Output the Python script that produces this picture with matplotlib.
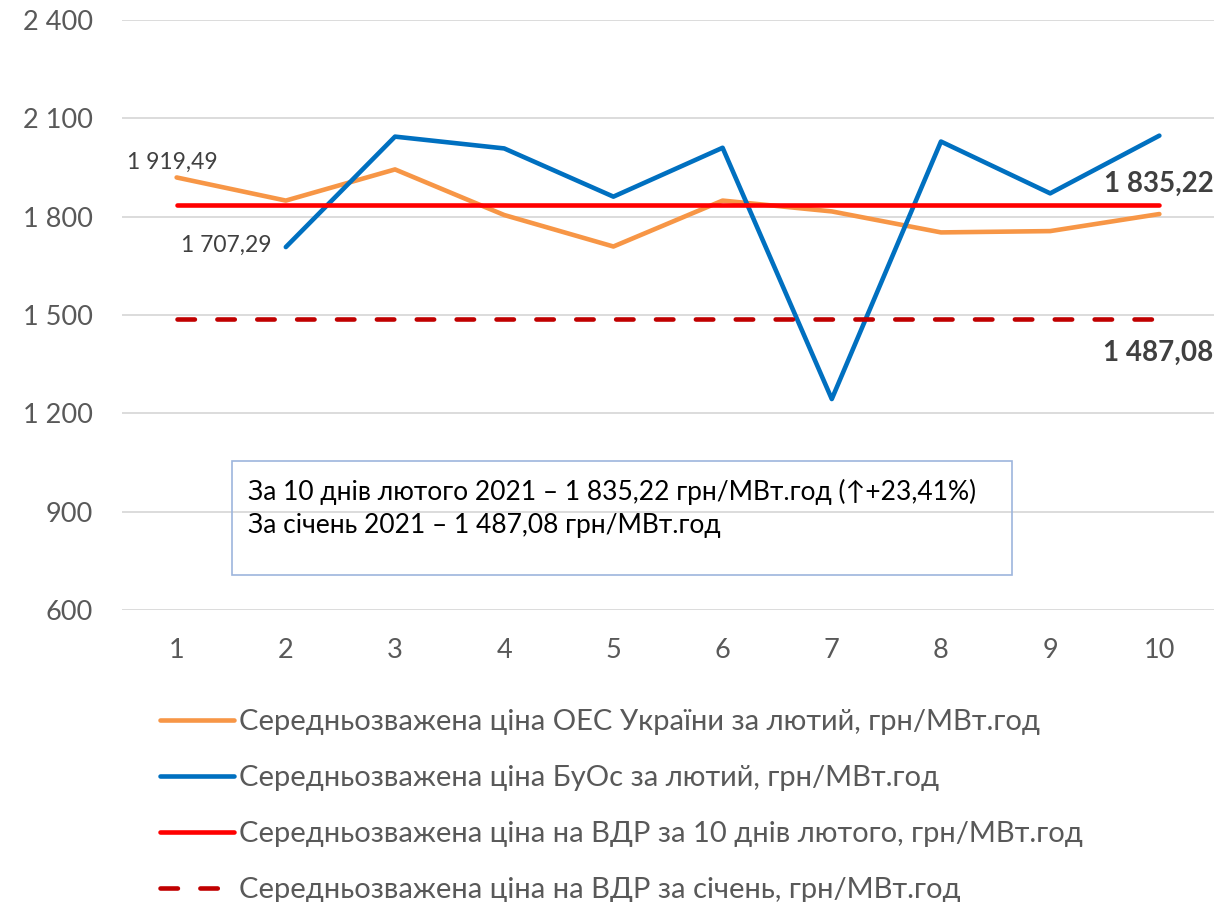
import matplotlib.pyplot as plt
import numpy as np

plt.rcParams['font.family'] = ['Lato', 'DejaVu Sans']

days = [1, 2, 3, 4, 5, 6, 7, 8, 9, 10]
oes_price = [1919.49, 1849, 1944, 1805, 1709, 1849, 1816, 1752, 1756, 1808]
buos_days = [2, 3, 4, 5, 6, 7, 8, 9, 10]
buos_price = [1707.29, 2044, 2008, 1861, 2010, 1244, 2029, 1871, 2047]
vdr_feb = 1835.22
vdr_jan = 1487.08
yticks = [600, 900, 1200, 1500, 1800, 2100, 2400]
ytick_labels = ['600', '900', '1 200', '1 500', '1 800', '2 100', '2 400']

labels = [
    'Середньозважена ціна ОЕС України за лютий, грн/МВт.год',
    'Середньозважена ціна БуОс за лютий, грн/МВт.год',
    'Середньозважена ціна на ВДР за 10 днів лютого, грн/МВт.год',
    'Середньозважена ціна на ВДР за січень, грн/МВт.год',
]

gray = '#595959'

fig = plt.figure(figsize=(12.24, 9.02), dpi=100)
ax = fig.add_axes([0.0997, 0.3234, 0.8921, 0.6546])

l1, = ax.plot(days, oes_price, color='#F79646', lw=3.3, solid_capstyle='round')
l2, = ax.plot(buos_days, buos_price, color='#0070C0', lw=3.3, solid_capstyle='round')
l3, = ax.plot(days, [vdr_feb] * len(days), color='#FF0000', lw=3.3, solid_capstyle='round')
l4, = ax.plot(days, [vdr_jan] * len(days), color='#C00000', lw=3.3,
              dashes=(3.8, 4.9), dash_capstyle='round')

ax.set_xlim(0.5, 10.5)
ax.set_ylim(600, 2400)
ax.set_yticks(yticks)
ax.set_yticklabels(ytick_labels)
ax.set_xticks(days)
ax.tick_params(length=0, labelsize=19.5, labelcolor=gray)
ax.tick_params(axis='y', pad=21)
ax.tick_params(axis='x', pad=20)
ax.grid(axis='y', color='#d9d9d9', lw=1.3)
ax.set_axisbelow(True)
for s in ax.spines.values():
    s.set_visible(False)

# data labels
ax.annotate('1 919,49', (days[0], oes_price[0]), xytext=(-36, 11), textcoords='offset points',
            fontsize=16.5, color='#404040', ha='left', va='center')
ax.annotate('1 707,29', (buos_days[0], buos_price[0]), xytext=(-10, 1.5), textcoords='offset points',
            fontsize=16.5, color='#404040', ha='right', va='center')
ax.annotate('1 835,22', (days[-1], vdr_feb), xytext=(39, 15), textcoords='offset points',
            fontsize=20, color='#404040', fontweight='bold', ha='right', va='center')
ax.annotate('1 487,08', (days[-1], vdr_jan), xytext=(39, -24), textcoords='offset points',
            fontsize=20, color='#404040', fontweight='bold', ha='right', va='center')

# text box
box = plt.Rectangle((232 / 1224, 1 - 575 / 902), (1012 - 232) / 1224, (575 - 461) / 902,
                    transform=fig.transFigure, fill=False, edgecolor='#9DB5DD', lw=1.2)
fig.add_artist(box)
fig.text(248 / 1224, 1 - 492 / 902, 'За 10 днів лютого 2021 – 1 835,22 грн/МВт.год (↑+23,41%)',
         fontsize=19, color='black', va='center', ha='left')
fig.text(248 / 1224, 1 - 525 / 902, 'За січень 2021 – 1 487,08 грн/МВт.год',
         fontsize=19, color='black', va='center', ha='left')

fig.legend([l1, l2, l3, l4], labels, loc='upper left',
           bbox_to_anchor=(160 / 1224, 1 - 709 / 902), frameon=False,
           fontsize=21, labelcolor=gray, handlelength=2.55, handletextpad=0.17,
           labelspacing=1.03, borderpad=0, borderaxespad=0)

fig.savefig('out.png', dpi=100)
